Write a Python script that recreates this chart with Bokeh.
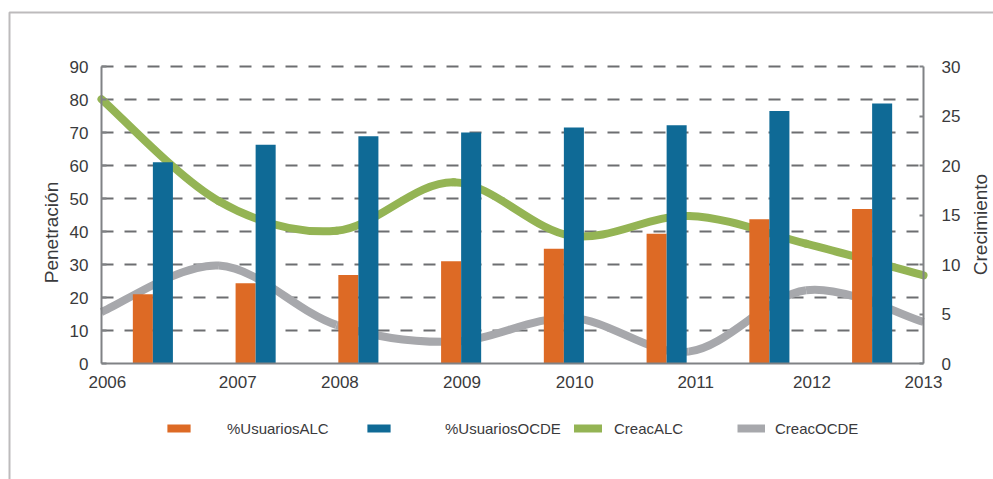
import numpy as np
from bokeh.plotting import figure
from bokeh.models import (Range1d, LinearAxis, FixedTicker, CustomJSTickFormatter,
                          Legend, LegendItem, Label, BoxAnnotation)
from bokeh.embed import file_html
from bokeh.resources import INLINE

# ---------------- data ----------------
years = [2006, 2007, 2008, 2009, 2010, 2011, 2012, 2013]
year_labels = ["2006", "2007", "2008", "2009", "2010", "2011", "2012", "2013"]
usuarios_alc = [21.0, 24.3, 26.8, 31.0, 34.8, 39.3, 43.7, 46.8]
usuarios_ocde = [61.0, 66.3, 68.9, 70.0, 71.5, 72.2, 76.5, 78.8]
creac_alc = [26.7, 16.4, 13.4, 18.3, 12.9, 14.9, 12.1, 8.9]
creac_ocde = [5.2, 9.9, 3.9, 2.2, 4.6, 1.2, 7.4, 4.2]
left_ticks = [0, 10, 20, 30, 40, 50, 60, 70, 80, 90]
right_ticks = [0, 5, 10, 15, 20, 25, 30]

# ---------------- layout / style ----------------
W, H = 993, 479                       # canvas
PL, PR, PT, PB = 101, 923, 66, 363    # plot area inside canvas (px)
label_pos = [2006.05, 2007.16, 2008.03, 2009.07, 2010.03, 2011.06, 2012.05, 2013.0]
ORANGE = "#DD6A25"
BLUE = "#0F6A96"
GREEN = "#94B454"
GRAY = "#A7A8AC"
AXIS = "#808285"
GRID = "#6D6E71"
TEXT = "#3A3A3C"
FONT = "Liberation Sans"


def full_range(lo, hi, px_lo, px_hi, px_total, vertical=False):
    """Range whose [lo, hi] lands on the pixel span [px_lo, px_hi] of a frame covering the canvas."""
    per = (px_hi - px_lo) / (hi - lo)
    if vertical:  # px measured from top
        return Range1d(lo - (px_total - px_hi) / per, hi + px_lo / per)
    return Range1d(lo - px_lo / per, hi + (px_total - px_hi) / per)


def smooth_segments(xs, ys):
    x = np.asarray(xs, float)
    y = np.asarray(ys, float)
    n = len(x)
    xp = np.concatenate([[x[0]], x, [x[-1]]])
    yp = np.concatenate([[y[0]], y, [y[-1]]])
    cx0 = xp[1:n] + (xp[2:n + 1] - xp[0:n - 1]) / 6.0
    cy0 = yp[1:n] + (yp[2:n + 1] - yp[0:n - 1]) / 6.0
    cx1 = xp[2:n + 1] - (xp[3:n + 2] - xp[1:n]) / 6.0
    cy1 = yp[2:n + 1] - (yp[3:n + 2] - yp[1:n]) / 6.0
    return dict(x0=x[:-1], y0=y[:-1], x1=x[1:], y1=y[1:],
                cx0=cx0, cy0=cy0, cx1=cx1, cy1=cy1)


xr = full_range(years[0], years[-1], PL, PR, W)
yr = full_range(left_ticks[0], left_ticks[-1], PT, PB, H, vertical=True)
yr_right = full_range(right_ticks[0], right_ticks[-1], PT, PB, H, vertical=True)
xr_slots = full_range(0, len(years), PL, PR, W)

p = figure(width=W, height=H, x_range=xr, y_range=yr,
           output_backend="svg", toolbar_location=None,
           x_axis_location=None, y_axis_location=None,
           min_border=0, min_border_left=0, min_border_right=0,
           min_border_top=0, min_border_bottom=0)
p.outline_line_color = None
p.background_fill_color = "white"
p.border_fill_color = "white"
p.grid.visible = False
p.extra_y_ranges = {"right": yr_right}
p.extra_x_ranges = {"slots": xr_slots}

# dashed horizontal grid (at the left-axis ticks, across the plot area)
grid_y = left_ticks[1:]
p.segment(x0=[years[0]] * len(grid_y), x1=[years[-1]] * len(grid_y), y0=grid_y, y1=grid_y,
          line_color=GRID, line_width=2, line_dash="12 11")

# smooth lines (drawn before the bars, which sit on top)
g = smooth_segments(years, creac_alc)
r_green = p.bezier(**g, y_range_name="right", line_color=GREEN, line_width=8, line_cap="round")
o = smooth_segments(years, creac_ocde)
r_gray = p.bezier(**o, y_range_name="right", line_color=GRAY, line_width=8, line_cap="butt")

# bars
slots = np.arange(len(years)) + 0.5
r_alc = p.vbar(x=slots - 0.0975, top=usuarios_alc, bottom=0, width=0.195, x_range_name="slots",
               fill_color=ORANGE, line_color=None)
r_ocde = p.vbar(x=slots + 0.0975, top=usuarios_ocde, bottom=0, width=0.195, x_range_name="slots",
                fill_color=BLUE, line_color=None)

# axes (fixed inside the full-canvas frame)
xa = LinearAxis(fixed_location=left_ticks[0], bounds=(years[0], years[-1]),
                ticker=FixedTicker(ticks=label_pos),
                formatter=CustomJSTickFormatter(args=dict(labels=year_labels),
                                                code="return labels[index];"))
xa.axis_line_color = AXIS
xa.axis_line_width = 2
xa.major_tick_line_color = None
xa.minor_tick_line_color = None
xa.major_label_standoff = 6
xa.major_label_text_font = FONT
xa.major_label_text_font_size = "17px"
xa.major_label_text_color = TEXT
p.add_layout(xa, "below")

ya = LinearAxis(fixed_location=years[0], bounds=(left_ticks[0], left_ticks[-1]),
                ticker=FixedTicker(ticks=left_ticks))
ya.axis_line_color = AXIS
ya.axis_line_width = 2
ya.major_tick_in = 5
ya.major_tick_out = 0
ya.major_tick_line_color = AXIS
ya.major_tick_line_width = 2
ya.minor_tick_line_color = None
ya.major_label_standoff = 13
ya.major_label_text_font = FONT
ya.major_label_text_font_size = "17px"
ya.major_label_text_color = TEXT
p.add_layout(ya, "left")

ra = LinearAxis(y_range_name="right", fixed_location=years[-1],
                bounds=(right_ticks[0], right_ticks[-1]), ticker=FixedTicker(ticks=right_ticks))
ra.axis_line_color = AXIS
ra.axis_line_width = 2
ra.major_tick_in = 4
ra.major_tick_out = 0
ra.major_tick_line_color = AXIS
ra.major_tick_line_width = 2
ra.minor_tick_line_color = None
ra.major_label_standoff = 18
ra.major_label_text_font = FONT
ra.major_label_text_font_size = "17px"
ra.major_label_text_color = TEXT
p.add_layout(ra, "right")

# axis titles (both read bottom-to-top)
xs = xr.start
xper = (PR - PL) / (years[-1] - years[0])
ye = yr.end
yper = (PB - PT) / (left_ticks[-1] - left_ticks[0])
p.add_layout(Label(x=xs + 51 / xper, y=ye - 232 / yper, text="Penetración",
                   angle=np.pi / 2, text_align="center", text_baseline="middle",
                   text_font=FONT, text_font_size="19px", text_color=TEXT))
p.add_layout(Label(x=xs + 980 / xper, y=ye - 224 / yper, text="Crecimiento",
                   angle=np.pi / 2, text_align="center", text_baseline="middle",
                   text_font=FONT, text_font_size="19px", text_color=TEXT))


def add_legend(label, rend, x, gw, standoff):
    lg = Legend(items=[LegendItem(label=label, renderers=[rend])], location=(x, H - 438),
                orientation="horizontal", glyph_width=gw, glyph_height=10,
                label_standoff=standoff, padding=0, margin=0, spacing=0,
                border_line_color=None, background_fill_alpha=0,
                label_text_font=FONT, label_text_font_size="15px",
                label_text_color=TEXT, label_height=20)
    p.add_layout(lg, "center")


add_legend("%UsuariosALC", r_alc, 164, 29, 34)
add_legend("%UsuariosOCDE", r_ocde, 364, 29, 52)
add_legend("CreacALC", r_green, 574, 28, 12)
add_legend("CreacOCDE", r_gray, 737, 28, 10)

# outer frame border (only its top and left edges fall inside the picture)
p.add_layout(BoxAnnotation(left=xs + 9 / xper, right=xr.end + 1,
                           top=ye - 12 / yper, bottom=yr.start - 1,
                           fill_alpha=0, line_color="#231F20", line_width=2))

open("out.html", "w").write(file_html(p, INLINE))
